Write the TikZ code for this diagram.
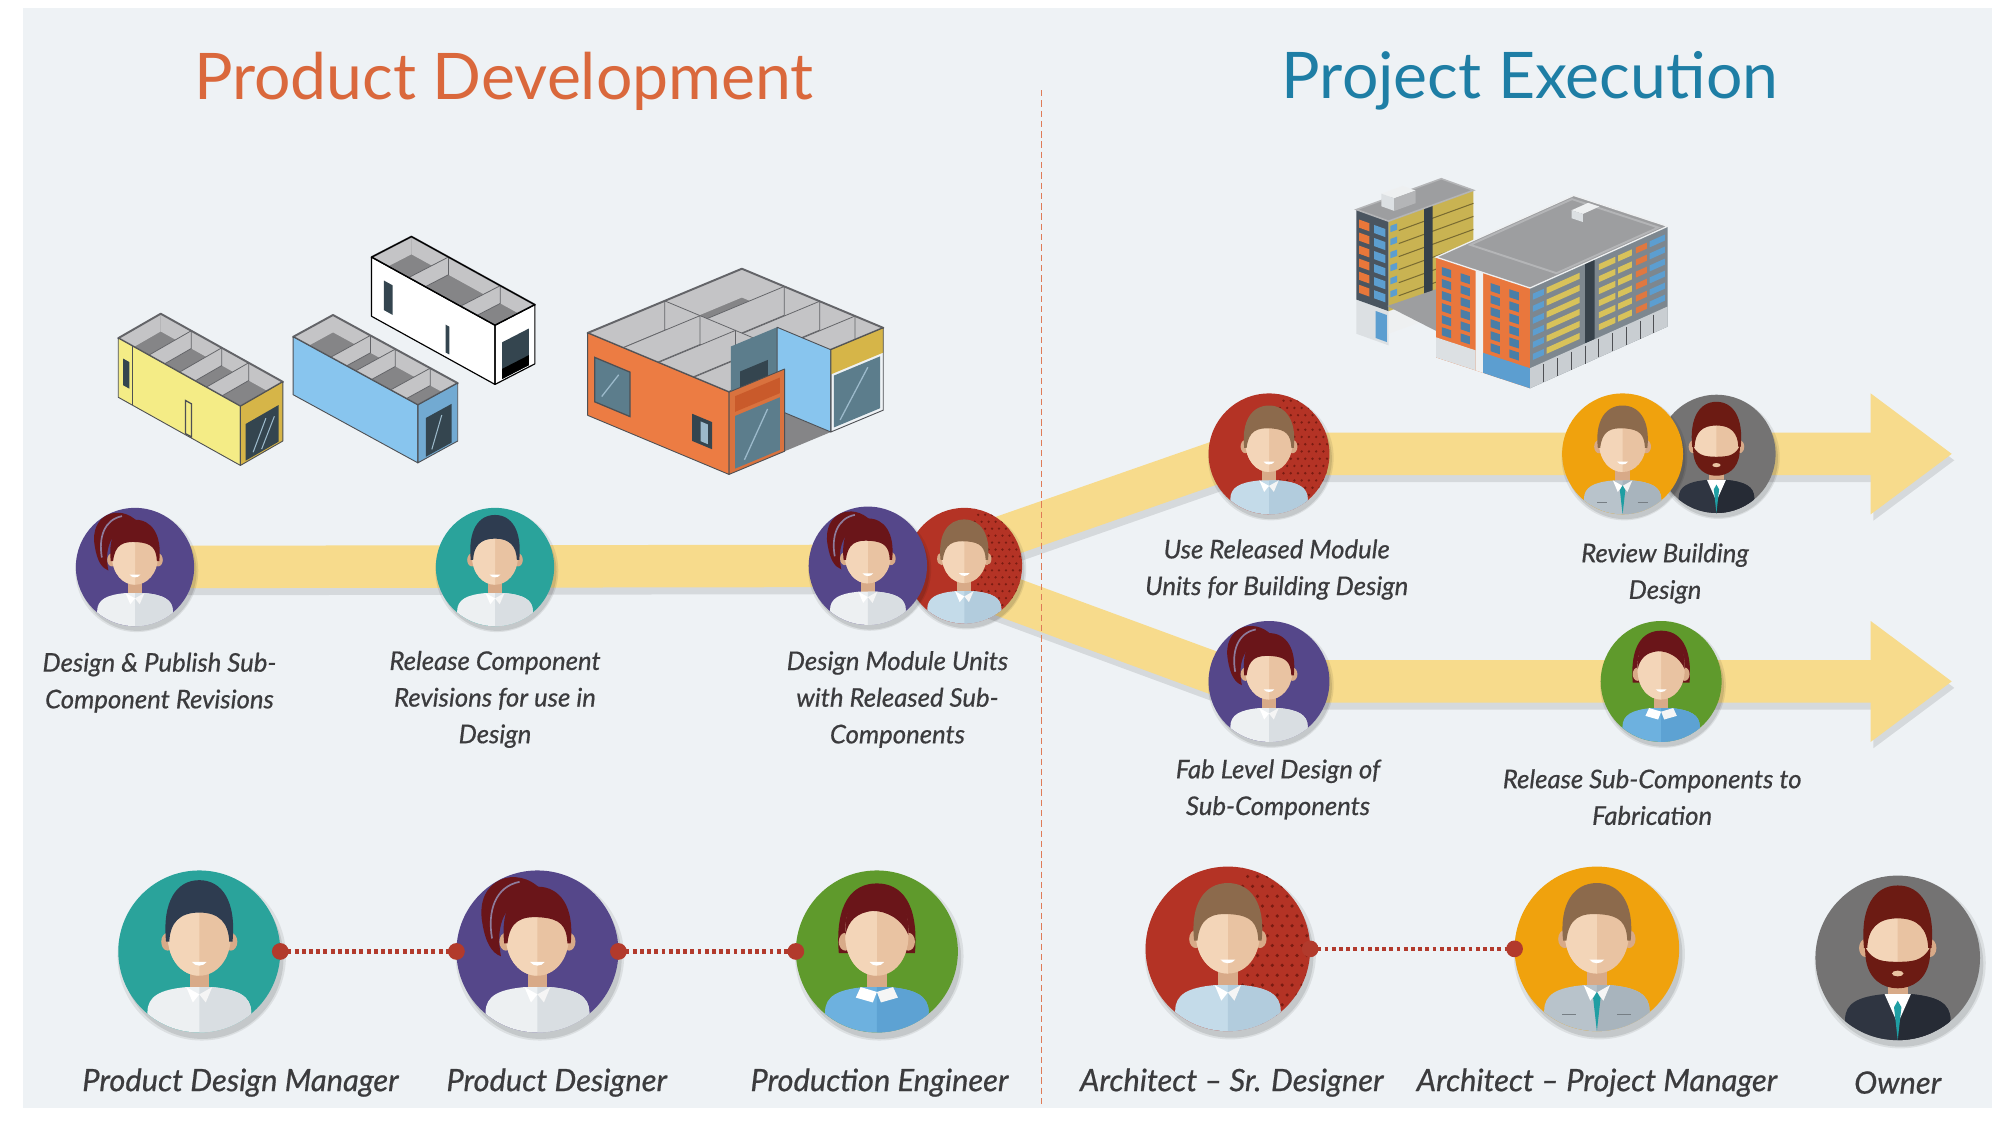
\documentclass[tikz,border=0pt]{standalone}
\usepackage{fontspec}
\setmainfont{Lato}
\newfontfamily\lblfont{Lato}[FakeBold=0.6]
\usetikzlibrary{calc}

% ---------- palette ----------
\definecolor{pagebg}{HTML}{EEF2F5}
\definecolor{ttlOrange}{HTML}{DA683C}
\definecolor{ttlBlue}{HTML}{1E7EA5}
\definecolor{bandY}{HTML}{F7DB8C}
\definecolor{txtC}{HTML}{3B3B3D}
\definecolor{linkRed}{HTML}{B23A2C}
\definecolor{divC}{HTML}{DF7B57}
\definecolor{bgPurple}{HTML}{55478A}
\definecolor{bgTeal}{HTML}{2AA39B}
\definecolor{bgGreen}{HTML}{5F9A2C}
\definecolor{bgRed}{HTML}{B43325}
\definecolor{redDot}{HTML}{7A1C12}
\definecolor{bgOrange}{HTML}{F0A20D}
\definecolor{bgGray}{HTML}{747373}
\definecolor{skinL}{HTML}{F3D5B8}
\definecolor{skinR}{HTML}{E9C3A2}
\definecolor{skinD}{HTML}{D8AA88}
\definecolor{hairMaroon}{HTML}{6A1519}
\definecolor{hairBrown}{HTML}{8C6A4C}
\definecolor{hairNavy}{HTML}{2E3C50}
\definecolor{hairOwner}{HTML}{6C1B13}
\definecolor{streakC}{HTML}{8E7C9C}
\definecolor{shirtW}{HTML}{EDF0F2}
\definecolor{shirtWd}{HTML}{D9DEE2}
\definecolor{shirtB}{HTML}{C4DBE9}
\definecolor{shirtBd}{HTML}{B2CCDD}
\definecolor{sweater}{HTML}{6DB1DF}
\definecolor{sweaterD}{HTML}{5DA2D3}
\definecolor{suitG}{HTML}{B8C3CB}
\definecolor{suitGd}{HTML}{A8B4BD}
\definecolor{suitD}{HTML}{2F3541}
\definecolor{suitDd}{HTML}{262B35}
\definecolor{tieC}{HTML}{1F9EA3}
\definecolor{floorG}{HTML}{858587}
\definecolor{wallG}{HTML}{C4C4C6}
\definecolor{rimG}{HTML}{636468}
\definecolor{lineG}{HTML}{4E5054}
\definecolor{modYellow}{HTML}{F4EC86}
\definecolor{modOchre}{HTML}{D6B548}
\definecolor{modBlue}{HTML}{88C5EE}
\definecolor{modBlueD}{HTML}{72AAD2}
\definecolor{modOrange}{HTML}{EC7C43}
\definecolor{modOrangeD}{HTML}{C95A2B}
\definecolor{glassD}{HTML}{34454F}
\definecolor{glassM}{HTML}{5C7D8C}
\definecolor{glassL}{HTML}{9CBACB}
\definecolor{roofG}{HTML}{9D9EA0}
\definecolor{roofL}{HTML}{B4B5B7}
\definecolor{towerY}{HTML}{C9B352}
\definecolor{towerL}{HTML}{4A5560}
\definecolor{winO}{HTML}{E8773A}
\definecolor{winB}{HTML}{5C9ED0}
\definecolor{coreD}{HTML}{36414A}
\definecolor{podL}{HTML}{DCE0E3}
\definecolor{podR}{HTML}{EEF0F1}
\definecolor{blockL}{HTML}{E9773D}
\definecolor{blockR}{HTML}{7D878F}
\definecolor{balY}{HTML}{D8C25A}
\definecolor{balO}{HTML}{E07840}
\definecolor{groundG}{HTML}{C9CED2}

\tikzset{
  flowband/.style={draw=bandY, line width=33pt, line join=round},
  flowshadow/.style={draw=black, opacity=0.10, line width=34pt, line join=round},
  avnode/.style={circle, inner sep=0pt, outer sep=0pt},
  steplabel/.style={font=\lblfont\fontsize{20}{28.5}\selectfont\itshape, text=txtC, align=center},
  rolelabel/.style={font=\lblfont\fontsize{24}{28}\selectfont\itshape, text=txtC},
  titlefont/.style={font=\fontsize{50}{60}\selectfont},
  dotlink/.style={draw=linkRed, line width=3.4pt, dash pattern=on 3pt off 2.6pt},
  divider/.style={draw=divC, line width=1pt, dash pattern=on 5pt off 3pt},
  rim/.style={draw=rimG, line width=1.5pt, line join=round},
  mline/.style={draw=lineG, line width=0.7pt, line join=round},
}

% quads on the planes of a 3D box (unit coordinates, z grows downwards)
\newcommand\quadX[5]{({#1},{#2},{#4}) -- ({#1},{#3},{#4}) -- ({#1},{#3},{#5}) -- ({#1},{#2},{#5}) -- cycle}
\newcommand\quadY[5]{({#2},{#1},{#4}) -- ({#3},{#1},{#4}) -- ({#3},{#1},{#5}) -- ({#2},{#1},{#5}) -- cycle}
\newcommand\quadZ[5]{({#2},{#4},{#1}) -- ({#3},{#4},{#1}) -- ({#3},{#5},{#1}) -- ({#2},{#5},{#1}) -- cycle}

% open top of a module: floor, inner wall faces and cross walls
\newcommand\openinterior[2]{%
  \begin{scope}
    \clip \quadZ{0}{0}{1}{0}{1};
    \fill[floorG] \quadZ{0}{0}{1}{0}{1};
    \fill[wallG] \quadY{1}{0}{1}{0}{#1};
    \fill[wallG] \quadX{0}{0}{1}{0}{#1};
    \foreach \p in {#2}{\fill[wallG, draw=rimG, line width=0.6pt] \quadX{\p}{0}{1}{0}{#1};}
  \end{scope}
  \draw[rim] \quadZ{0}{0}{1}{0}{1};}

% ---------- avatar parts (unit circle, y grows downwards) ----------
\newcommand\faceshape{(0,-0.7) .. controls (0.32,-0.7) and (0.39,-0.5) .. (0.39,-0.2) .. controls (0.39,0.12) and (0.2,0.3) .. (0,0.3) .. controls (-0.2,0.3) and (-0.39,0.12) .. (-0.39,-0.2) .. controls (-0.39,-0.5) and (-0.32,-0.7) .. (0,-0.7) -- cycle}
\newcommand\bodyshape{(-0.64,1.1) -- (-0.64,0.75) .. controls (-0.64,0.55) and (-0.48,0.47) .. (-0.16,0.44) -- (0.16,0.44) .. controls (0.48,0.47) and (0.64,0.55) .. (0.64,0.75) -- (0.64,1.1) -- cycle}
\newcommand\shorthair{(-0.41,-0.1) .. controls (-0.46,-0.55) and (-0.28,-0.8) .. (0,-0.8) .. controls (0.28,-0.8) and (0.46,-0.55) .. (0.41,-0.1) -- (0.37,-0.1) .. controls (0.36,-0.32) and (0.28,-0.4) .. (0.05,-0.42) .. controls (-0.2,-0.44) and (-0.34,-0.38) .. (-0.37,-0.1) -- cycle}
\newcommand\quiffhair{(-0.41,-0.12) .. controls (-0.46,-0.62) and (-0.28,-0.88) .. (0,-0.88) .. controls (0.28,-0.88) and (0.46,-0.62) .. (0.41,-0.12) -- (0.37,-0.12) .. controls (0.36,-0.35) and (0.25,-0.48) .. (0,-0.48) .. controls (-0.25,-0.48) and (-0.36,-0.35) .. (-0.37,-0.12) -- cycle}
\newcommand\neck{\fill[skinD] (-0.12,0.05) rectangle (0.12,0.56);}
\newcommand\shirtpair[2]{%
  \fill[#1] \bodyshape;
  \begin{scope}\clip (0,-1.2) rectangle (1.2,1.2); \fill[#2] \bodyshape;\end{scope}}
\newcommand\head{%
  \fill[skinD] (-0.39,-0.12) ellipse [x radius=0.08, y radius=0.11];
  \fill[skinD] (0.39,-0.12) ellipse [x radius=0.08, y radius=0.11];
  \fill[skinR] \faceshape;
  \begin{scope}\clip (-1.2,-1.2) rectangle (0,1.2); \fill[skinL] \faceshape;\end{scope}
  \fill[white] (-0.09,0.13) .. controls (-0.05,0.19) and (0.05,0.19) .. (0.09,0.13) -- cycle;}
\newcommand\vcollar{%
  \fill[white] (-0.16,0.44) -- (0,0.53) -- (-0.08,0.63) -- cycle;
  \fill[white!92!gray] (0.16,0.44) -- (0,0.53) -- (0.08,0.63) -- cycle;}
\newcommand\tie{\fill[tieC] (0,0.52) -- (-0.045,0.6) -- (0,1.0) -- (0.045,0.6) -- cycle;}

\newcommand\avwomanP{%
  \fill[bgPurple] (-1.1,-1.1) rectangle (1.1,1.1);
  \fill[hairMaroon] (0.05,-0.76) .. controls (-0.25,-1.08) and (-0.78,-0.9) .. (-0.68,-0.35) .. controls (-0.64,-0.1) and (-0.56,0.02) .. (-0.45,0.06) .. controls (-0.52,-0.3) and (-0.44,-0.64) .. (0.05,-0.76) -- cycle;
  \neck
  \shirtpair{shirtW}{shirtWd}
  \vcollar
  \head
  \fill[hairMaroon] \shorthair;
  \draw[streakC, line width=1.3pt] (-0.22,-0.86) .. controls (-0.52,-0.8) and (-0.62,-0.5) .. (-0.56,-0.16);}

\newcommand\avmanT{%
  \fill[bgTeal] (-1.1,-1.1) rectangle (1.1,1.1);
  \neck
  \shirtpair{shirtW}{shirtWd}
  \vcollar
  \head
  \fill[hairNavy] \quiffhair;}

\newcommand\avwomanG{%
  \fill[bgGreen] (-1.1,-1.1) rectangle (1.1,1.1);
  \fill[hairMaroon] (-0.47,0.02) .. controls (-0.52,-0.6) and (-0.3,-0.84) .. (0,-0.84) .. controls (0.3,-0.84) and (0.52,-0.6) .. (0.47,0.02) -- cycle;
  \neck
  \shirtpair{sweater}{sweaterD}
  \fill[white] (-0.2,0.44) -- (0,0.5) -- (-0.05,0.63) -- (-0.26,0.57) -- cycle;
  \fill[white!92!gray] (0.2,0.44) -- (0,0.5) -- (0.05,0.63) -- (0.26,0.57) -- cycle;
  \head
  \fill[hairMaroon] (-0.39,-0.2) .. controls (-0.4,-0.6) and (-0.25,-0.78) .. (0,-0.78) .. controls (0.25,-0.78) and (0.4,-0.6) .. (0.39,-0.2) .. controls (0.3,-0.42) and (0.1,-0.5) .. (-0.05,-0.5) .. controls (-0.25,-0.48) and (-0.35,-0.38) .. (-0.39,-0.2) -- cycle;}

\newcommand\avmanR{%
  \fill[bgRed] (-1.1,-1.1) rectangle (1.1,1.1);
  \foreach \i in {0,...,7}{\foreach \j in {0,...,17}{
    \fill[redDot] ({0.18+\i*0.12+0.06*mod(\j,2)},{-1.0+\j*0.12}) circle (0.022);}}
  \neck
  \shirtpair{shirtB}{shirtBd}
  \vcollar
  \head
  \fill[hairBrown] \shorthair;}

\newcommand\avmanO{%
  \fill[bgOrange] (-1.1,-1.1) rectangle (1.1,1.1);
  \neck
  \shirtpair{suitG}{suitGd}
  \vcollar
  \tie
  \draw[suitGd!70!black, line width=1pt] (-0.42,0.8) -- (-0.25,0.8) (0.25,0.8) -- (0.42,0.8);
  \head
  \fill[hairBrown] \shorthair;}

\newcommand\avowner{%
  \fill[bgGray] (-1.1,-1.1) rectangle (1.1,1.1);
  \neck
  \shirtpair{suitD}{suitDd}
  \fill[white] (-0.16,0.44) -- (0.16,0.44) -- (0,0.8) -- cycle;
  \tie
  \head
  \fill[hairOwner] \quiffhair;
  \fill[hairOwner] (-0.4,-0.14) -- (-0.39,0.0) .. controls (-0.36,0.26) and (-0.18,0.37) .. (0,0.37) .. controls (0.18,0.37) and (0.36,0.26) .. (0.39,0.0) -- (0.4,-0.14) .. controls (0.3,0.06) and (0.15,0.04) .. (0,0.05) .. controls (-0.15,0.04) and (-0.3,0.06) .. (-0.4,-0.14) -- cycle;
  \fill[skinR] (0,0.19) ellipse [x radius=0.07, y radius=0.035];}

\newcommand\drawavatar[3]{%
  \begin{scope}[shift={(#1.center)}, scale=#2]
    \fill[black, opacity=0.08] (0.03,0.06) circle (1.04);
    \fill[black, opacity=0.10] (0.04,0.08) circle (1.0);
    \begin{scope}
      \clip (0,0) circle (1);
      \csname av#3\endcsname
    \end{scope}
  \end{scope}}

\begin{document}
\begin{tikzpicture}[x=1pt, y=-1pt]
\useasboundingbox (0,0) rectangle (1568,873);
\fill[white] (0,0) rectangle (1568,873);
\fill[pagebg] (18,6) rectangle (1549,862);

% ---------- titles ----------
\node[titlefont, text=ttlOrange] (ttlPD) at (392,63) {Product Development};
\node[titlefont, text=ttlBlue] (ttlPE) at (1190,63) {Project Execution};

% ---------- modules ----------
% yellow module
\begin{scope}[shift={(92,263)}, x={(95pt,-53pt)}, y={(33pt,19pt)}, z={(0pt,-46pt)}]
  \openinterior{0.3}{0.25,0.5,0.72}
  \fill[modYellow] \quadY{0}{0}{1}{0}{1};
  \draw[mline] (0.12,0,0) -- (0.12,0,1);
  \fill[glassD] \quadY{0}{0.04}{0.09}{0.3}{0.75};
  \draw[lineG, line width=1pt] \quadY{0}{0.55}{0.6}{0.42}{0.98};
  \fill[modOchre] \quadX{1}{0}{1}{0}{1};
  \fill[glassD] \quadX{1}{0.12}{0.9}{0.35}{0.97};
  \draw[glassL, line width=0.8pt] (1,0.3,0.9) -- (1,0.6,0.45) (1,0.5,0.93) -- (1,0.8,0.5);
  \draw[mline] \quadY{0}{0}{1}{0}{1};
  \draw[mline] \quadX{1}{0}{1}{0}{1};
\end{scope}
% white module
\begin{scope}[shift={(289,200)}, x={(96pt,-53pt)}, y={(31pt,16pt)}, z={(0pt,-46pt)}]
  \openinterior{0.3}{0.3,0.72}
  \fill[white] \quadY{0}{0}{1}{0}{1};
  \fill[glassD] \quadY{0}{0.1}{0.17}{0.28}{0.78};
  \fill[glassD] \quadY{0}{0.6}{0.63}{0.45}{0.92};
  \fill[white] \quadX{1}{0}{1}{0}{1};
  \fill[glassD] \quadX{1}{0.18}{0.85}{0.35}{0.97};
  \fill[black] \quadX{1}{0.18}{0.85}{0.8}{0.97};
  \draw[black, line width=0.9pt, line join=round] \quadY{0}{0}{1}{0}{1};
  \draw[black, line width=0.9pt, line join=round] \quadX{1}{0}{1}{0}{1};
  \draw[black, line width=0.9pt, line join=round] \quadZ{0}{0}{1}{0}{1};
\end{scope}
% blue module
\begin{scope}[shift={(228,262)}, x={(97pt,-53pt)}, y={(31pt,17pt)}, z={(0pt,-45pt)}]
  \openinterior{0.3}{0.3,0.5,0.78}
  \fill[modBlue] \quadY{0}{0}{1}{0}{1};
  \fill[modBlueD] \quadX{1}{0}{1}{0}{1};
  \fill[glassD] \quadX{1}{0.2}{0.85}{0.3}{0.97};
  \draw[glassL, line width=0.8pt] (1,0.35,0.9) -- (1,0.6,0.4);
  \draw[mline] \quadY{0}{0}{1}{0}{1};
  \draw[mline] \quadX{1}{0}{1}{0}{1};
\end{scope}
% orange double module with recess
\begin{scope}[shift={(457,259)}, x={(110pt,-46pt)}, y={(120pt,50pt)}, z={(0pt,-64pt)}]
  \begin{scope}
    \clip \quadZ{0}{0}{1}{0}{1};
    \fill[floorG] \quadZ{0}{0}{1}{0}{1};
    \fill[wallG] \quadY{1}{0}{1}{0}{0.35};
    \fill[wallG] \quadX{0}{0}{1}{0}{0.35};
    \foreach \p in {0.3,0.55,0.8}{\fill[wallG, draw=rimG, line width=0.6pt] \quadX{\p}{0.5}{1}{0}{0.35};}
    \fill[wallG, draw=rimG, line width=0.6pt] \quadY{0.5}{0}{1}{0}{0.35};
    \foreach \p in {0.25,0.5,0.75}{\fill[wallG, draw=rimG, line width=0.6pt] \quadX{\p}{0}{0.5}{0}{0.35};}
  \end{scope}
  \draw[rim] \quadZ{0}{0}{1}{0}{1};
  % recess between the two units
  \fill[floorG] \quadZ{1}{0.62}{1}{0.36}{0.66};
  \fill[glassM] \quadX{0.62}{0.36}{0.66}{0}{1};
  \fill[glassD] \quadX{0.62}{0.42}{0.6}{0.35}{1};
  \fill[modBlue] \quadY{0.66}{0.62}{1}{0}{1};
  \draw[mline] \quadY{0.66}{0.62}{1}{0}{1};
  % long face
  \fill[modOrange] \quadY{0}{0}{1}{0}{1};
  \fill[glassM] \quadY{0}{0.05}{0.3}{0.26}{0.8};
  \draw[glassL, line width=1pt] (0.1,0,0.7) -- (0.22,0,0.35);
  \draw[lineG, line width=1pt] \quadY{0}{0.05}{0.3}{0.26}{0.8};
  \fill[glassD] \quadY{0}{0.74}{0.88}{0.45}{0.78};
  \fill[glassL] \quadY{0}{0.8}{0.85}{0.5}{0.74};
  % end faces
  \fill[modOrange!92!black] \quadX{1}{0}{0.36}{0}{1};
  \fill[modOrangeD] \quadX{1}{0.04}{0.33}{0.08}{0.27};
  \fill[glassM] \quadX{1}{0.04}{0.33}{0.32}{0.96};
  \draw[glassL, line width=1pt] (1,0.1,0.9) -- (1,0.25,0.4);
  \fill[modOchre] \quadX{1}{0.66}{1}{0}{0.3};
  \fill[glassM] \quadX{1}{0.68}{0.98}{0.33}{0.96};
  \draw[glassL, line width=1pt] (1,0.72,0.9) -- (1,0.9,0.4);
  \draw[mline] \quadY{0}{0}{1}{0}{1};
  \draw[mline] \quadX{1}{0}{0.36}{0}{1};
  \draw[mline] \quadX{1}{0.66}{1}{0}{1};
\end{scope}

% ---------- apartment building ----------
% tower
\begin{scope}[shift={(1055,163)}, x={(25pt,-9pt)}, y={(66pt,24pt)}, z={(0pt,-70pt)}]
  \fill[podL] \quadY{0}{0}{1}{1}{1.38};
  \fill[winB] \quadY{0}{0.6}{0.95}{1.05}{1.35};
  \fill[podR] \quadX{1}{0}{1}{1}{1.25};
  \fill[towerL] \quadY{0}{0}{1}{0}{1};
  \foreach \f in {0,...,5}{
    \fill[winO] \quadY{0}{0.08}{0.4}{0.1+\f*0.145}{0.19+\f*0.145};
    \fill[winB] \quadY{0}{0.55}{0.9}{0.1+\f*0.145}{0.19+\f*0.145};}
  \fill[towerY] \quadX{1}{0}{1}{0}{1};
  \foreach \f in {1,...,6}{\draw[towerY!60!black, line width=0.8pt] (1,0.12,{\f*0.145}) -- (1,1,{\f*0.145});}
  \fill[coreD] \quadX{1}{0.42}{0.52}{0}{1};
  \foreach \f in {0,...,5}{\fill[winB] \quadX{1}{0.02}{0.1}{0.06+\f*0.145}{0.13+\f*0.145};}
  \fill[roofG] \quadZ{0}{0}{1}{0}{1};
  \draw[roofL, line width=1.2pt] \quadZ{0}{0}{1}{0}{1};
  \fill[podR] \quadZ{-0.14}{0.25}{0.65}{0.2}{0.45};
  \fill[podL] \quadY{0.2}{0.25}{0.65}{-0.14}{0};
  \fill[roofL] \quadX{0.65}{0.2}{0.45}{-0.14}{0};
\end{scope}
% courtyard deck
\fill[roofG] (1079,238) -- (1146,215) -- (1192,236) -- (1126,262) -- cycle;
% main block
\begin{scope}[shift={(1117,200)}, x={(73pt,-24pt)}, y={(107pt,48pt)}, z={(0pt,-78pt)}]
  \fill[blockL] \quadY{0}{0}{1}{0}{1};
  \foreach \f in {0,...,5}{
    \foreach \c in {0.06,0.26,0.58,0.78}{\fill[winB!80!black] \quadY{0}{\c}{\c+0.1}{0.08+\f*0.12}{0.16+\f*0.12};}}
  \fill[podR] \quadY{0}{0.42}{0.5}{0}{1};
  \fill[podL] \quadY{0}{0}{0.42}{0.8}{1};
  \fill[winB] \quadY{0}{0.5}{1}{0.8}{1};
  \fill[blockR] \quadX{1}{0}{1}{0}{1};
  \foreach \f in {0,...,5}{
    \foreach \a/\b/\col in {0.02/0.1/winB, 0.12/0.36/balY, 0.5/0.62/balY, 0.64/0.74/balY, 0.77/0.85/balO, 0.87/0.98/winB}{
      \fill[\col] \quadX{1}{\a}{\b}{0.07+\f*0.12}{0.13+\f*0.12};}}
  \fill[coreD] \quadX{1}{0.4}{0.47}{0}{0.8};
  \fill[groundG] \quadX{1}{0}{1}{0.8}{1};
  \foreach \v in {0.1,0.2,...,0.95}{\draw[mline] (1,\v,0.82) -- (1,\v,1);}
  \fill[roofG] \quadZ{0}{0}{1}{0}{1};
  \draw[roofL, line width=1.5pt] \quadZ{0}{0.04}{0.96}{0.22}{0.96};
  \draw[podR, line width=1pt] \quadZ{0}{0}{1}{0}{1};
  \fill[podR] \quadZ{-0.08}{0.3}{0.42}{0.78}{0.9};
  \fill[podL] \quadY{0.78}{0.3}{0.42}{-0.08}{0};
\end{scope}

% ---------- avatar positions ----------
\node[avnode, minimum size=92] (s1) at (105,441) {};
\node[avnode, minimum size=92] (s2) at (385,441) {};
\node[avnode, minimum size=92] (s3) at (675,440) {};
\node[avnode, minimum size=90] (s4) at (750,440) {};
\node[avnode, minimum size=94] (u1) at (987,353) {};
\node[avnode, minimum size=94] (u2) at (1262,353) {};
\node[avnode, minimum size=92] (u3) at (1335,353) {};
\node[avnode, minimum size=94] (d1) at (987,530) {};
\node[avnode, minimum size=94] (d2) at (1292,530) {};
\node[avnode, minimum size=126] (pdm) at (155,740) {};
\node[avnode, minimum size=126] (pd) at (418,740) {};
\node[avnode, minimum size=126] (pe) at (682,740) {};
\node[avnode, minimum size=128] (asd) at (955,738) {};
\node[avnode, minimum size=128] (apm) at (1242,738) {};
\node[avnode, minimum size=128] (own) at (1476,745) {};
\coordinate (tipU) at (1518,353);
\coordinate (tipD) at (1518,530);

% ---------- flow bands ----------
\begin{scope}[transform canvas={shift={(2,5)}}]
  \draw[flowshadow] (s1.center) -- (s4.center);
  \draw[flowshadow] ($(s4.center)+(0,-12)$) -- ($(u1.center)+(-22,0)$) -- ($(tipU)+(-62,0)$);
  \draw[flowshadow] ($(s4.center)+(0,12)$) -- ($(d1.center)+(-25,0)$) -- ($(tipD)+(-62,0)$);
  \fill[black, opacity=0.10] ($(tipU)+(-63,-47)$) -- (tipU) -- ($(tipU)+(-63,47)$) -- cycle;
  \fill[black, opacity=0.10] ($(tipD)+(-63,-47)$) -- (tipD) -- ($(tipD)+(-63,47)$) -- cycle;
\end{scope}
\draw[flowband] (s1.center) -- (s4.center);
\draw[flowband] ($(s4.center)+(0,-12)$) -- ($(u1.center)+(-22,0)$) -- ($(tipU)+(-62,0)$);
\draw[flowband] ($(s4.center)+(0,12)$) -- ($(d1.center)+(-25,0)$) -- ($(tipD)+(-62,0)$);
\fill[bandY] ($(tipU)+(-63,-47)$) -- (tipU) -- ($(tipU)+(-63,47)$) -- cycle;
\fill[bandY] ($(tipD)+(-63,-47)$) -- (tipD) -- ($(tipD)+(-63,47)$) -- cycle;

% ---------- divider ----------
\coordinate (divTop) at (810,70);
\coordinate (divBot) at (810,860);
\draw[divider] (divTop) -- (divBot);

% ---------- avatars ----------
\drawavatar{s1}{46}{womanP}
\drawavatar{s2}{46}{manT}
\drawavatar{s4}{45}{manR}
\drawavatar{s3}{46}{womanP}
\drawavatar{u1}{47}{manR}
\drawavatar{u3}{46}{owner}
\drawavatar{u2}{47}{manO}
\drawavatar{d1}{47}{womanP}
\drawavatar{d2}{47}{womanG}
\drawavatar{pdm}{63}{manT}
\drawavatar{pd}{63}{womanP}
\drawavatar{pe}{63}{womanG}
\drawavatar{asd}{64}{manR}
\drawavatar{apm}{64}{manO}
\drawavatar{own}{64}{owner}

% ---------- team links ----------
\draw[dotlink] (pdm.east) -- (pd.west);
\draw[dotlink] (pd.east) -- (pe.west);
\draw[dotlink] (asd.east) -- (apm.west);
\foreach \a in {pdm.east, pd.west, pd.east, pe.west, asd.east, apm.west}{\fill[linkRed] (\a) circle (6.5);}

% ---------- step labels ----------
\node[steplabel] (l1) at (124,531) {Design \& Publish Sub-\\Component Revisions};
\node[steplabel] (l2) at (385,544) {Release Component\\Revisions for use in\\Design};
\node[steplabel] (l3) at (698,544) {Design Module Units\\with Released Sub-\\Components};
\node[steplabel] (l4) at (993,443) {Use Released Module\\Units for Building Design};
\node[steplabel] (l5) at (1295,446) {Review Building\\Design};
\node[steplabel] (l6) at (994,614) {Fab Level Design of\\Sub-Components};
\node[steplabel] (l7) at (1285,620) {Release Sub-Components to\\Fabrication};

% ---------- roles ----------
\node[rolelabel] (r1) at (187,842) {Product Design Manager};
\node[rolelabel] (r2) at (433,842) {Product Designer};
\node[rolelabel] (r3) at (684,842) {Production Engineer};
\node[rolelabel] (r4) at (958,842) {Architect – Sr. Designer};
\node[rolelabel] (r5) at (1242,842) {Architect – Project Manager};
\node[rolelabel] (r6) at (1476,842) {Owner};
\end{tikzpicture}
\end{document}
